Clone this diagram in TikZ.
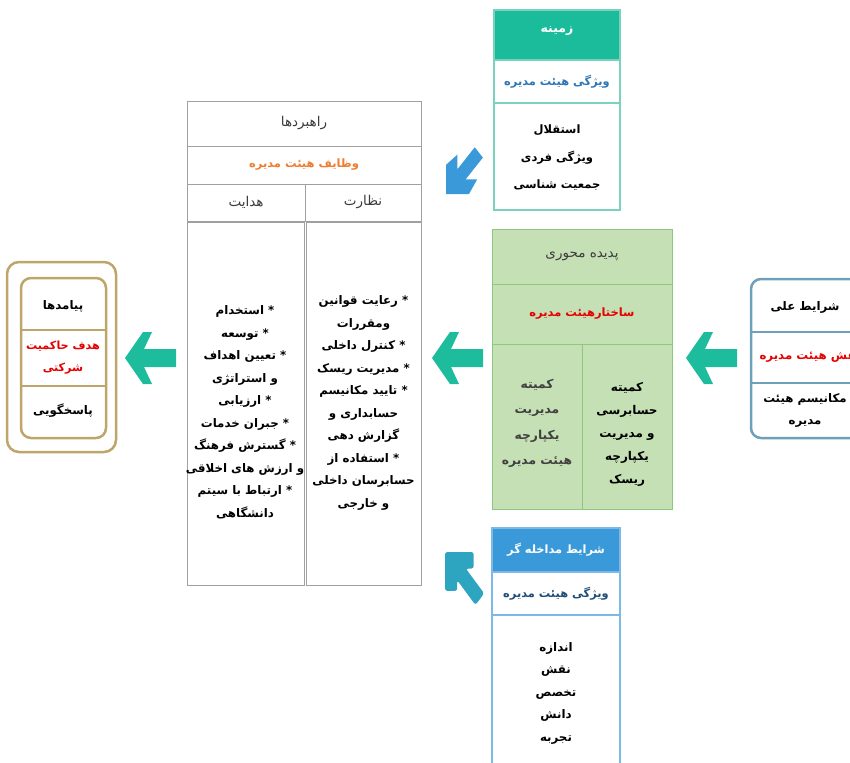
\documentclass[tikz,border=0pt]{standalone}
\usepackage{fontspec}
\newfontfamily\ar[Script=Arabic]{DejaVu Sans}
\TeXXeTstate=1
\newcommand\rl[1]{\beginR #1\endR}
\definecolor{zteal}{RGB}{27,188,155}
\definecolor{ztealline}{RGB}{120,210,190}
\definecolor{steel}{RGB}{46,117,182}
\definecolor{navy}{RGB}{31,78,121}
\definecolor{orng}{RGB}{237,125,49}
\definecolor{grayline}{RGB}{160,160,160}
\definecolor{gfill}{RGB}{197,224,180}
\definecolor{gline}{RGB}{140,200,125}
\definecolor{redt}{RGB}{230,0,0}
\definecolor{cline}{RGB}{110,160,185}
\definecolor{gold}{RGB}{190,165,105}
\definecolor{mblue}{RGB}{58,154,217}
\definecolor{mline}{RGB}{125,185,230}
\definecolor{garrow}{RGB}{29,188,156}
\definecolor{barrow}{RGB}{58,154,217}
\definecolor{tarrow}{RGB}{46,165,192}
\definecolor{darkt}{RGB}{60,60,60}
\definecolor{grayt}{RGB}{64,64,64}
\begin{document}
\begin{tikzpicture}[x=1pt,y=-1pt,
  every node/.style={inner sep=0pt,outer sep=0pt,align=center},
  txt/.style={font=\ar\bfseries\fontsize{11.8}{22.5}\selectfont},
  hdr/.style={font=\ar\fontsize{13.5}{16}\selectfont, text=darkt},
  zc/.style={draw=ztealline, line width=1.2pt, rectangle},
  rc/.style={draw=grayline, line width=0.8pt, rectangle},
  gc/.style={draw=gline, line width=1pt, fill=gfill, rectangle},
  mc/.style={draw=mline, line width=1.2pt, rectangle},
  garr/.style={fill=garrow}]
\useasboundingbox (0,0) rectangle (850,762);
\clip (0,0) rectangle (850,762);

% ---- Zamineh box
\node[zc, fill=zteal, minimum width=126pt, minimum height=50pt] (z1) at (557,35) {};
\node[text=white, font=\ar\bfseries\fontsize{12.5}{14}\selectfont] (z1t) at (557,31) {\rl{زمینه}};
\node[zc, minimum width=126pt, minimum height=43pt, text=steel,
      font=\ar\bfseries\fontsize{11.4}{13}\selectfont] (z2) at (557,81.5) {\rl{ویژگی هیئت مدیره}};
\node[zc, minimum width=126pt, minimum height=107pt] (z3) at (557,156.5) {};
\node[font=\ar\bfseries\fontsize{11.5}{27.5}\selectfont] (z3t) at (557,158)
  {\rl{استقلال}\\\rl{ویژگی فردی}\\\rl{جمعیت شناسی}};

% ---- Rahbordha box
\node[rc, minimum width=234pt, minimum height=45pt, hdr] (r1) at (304,123.5) {\rl{راهبردها}};
\node[rc, minimum width=234pt, minimum height=38pt, text=orng,
      font=\ar\bfseries\fontsize{11.5}{13}\selectfont] (r2) at (304,165) {\rl{وظایف هیئت مدیره}};
\node[rc, minimum width=118pt, minimum height=37pt, hdr] (r3a) at (246,202.5) {\rl{هدایت}};
\node[rc, minimum width=116pt, minimum height=37pt, hdr] (r3b) at (363,202.5) {\rl{نظارت}};
\node[rc, minimum width=117pt, minimum height=363pt] (r4a) at (245.5,403.5) {};
\node[rc, minimum width=115pt, minimum height=363pt] (r4b) at (363.5,403.5) {};
\node[txt] (r4at) at (245,412.5)
  {\rl{* استخدام}\\\rl{* توسعه}\\\rl{* تعیین اهداف}\\\rl{و استراتژی}\\\rl{* ارزیابی}\\
   \rl{* جبران خدمات}\\\rl{* گسترش فرهنگ}\\\rl{و ارزش های اخلاقی}\\\rl{* ارتباط با سیتم}\\\rl{دانشگاهی}};
\node[txt] (r4bt) at (363.5,403)
  {\rl{* رعایت قوانین}\\\rl{ومقررات}\\\rl{* کنترل داخلی}\\\rl{* مدیریت ریسک}\\\rl{* تایید مکانیسم}\\
   \rl{حسابداری و}\\\rl{گزارش دهی}\\\rl{* استفاده از}\\\rl{حسابرسان داخلی}\\\rl{و خارجی}};

% ---- Green box
\node[gc, minimum width=180pt, minimum height=55pt, hdr] (g1) at (582,256.5) {\rl{پدیده محوری}};
\node[gc, minimum width=180pt, minimum height=60pt, text=redt,
      font=\ar\bfseries\fontsize{11.5}{13}\selectfont] (g2) at (582,314) {\rl{ساختارهیئت مدیره}};
\node[gc, minimum width=90pt, minimum height=165pt] (g3a) at (537,426.5) {};
\node[gc, minimum width=90pt, minimum height=165pt] (g3b) at (627,426.5) {};
\node[text=grayt, font=\ar\bfseries\fontsize{12.3}{25.5}\selectfont] (g3at) at (537,423.5)
  {\rl{کمیته}\\\rl{مدیریت}\\\rl{یکپارچه}\\\rl{هیئت مدیره}};
\node[font=\ar\bfseries\fontsize{12}{23}\selectfont] (g3bt) at (627,434)
  {\rl{کمیته}\\\rl{حسابرسی}\\\rl{و مدیریت}\\\rl{یکپارچه}\\\rl{ریسک}};

% ---- Sharayet elli box
\node[draw=cline, line width=2.5pt, rounded corners=10pt, minimum width=115pt, minimum height=159pt] (c) at (808.5,358.5) {};
\draw[cline, line width=1.5pt] (c.west |- 0,332) -- (c.east |- 0,332);
\draw[cline, line width=1.5pt] (c.west |- 0,383) -- (c.east |- 0,383);
\node[txt] (c1) at (805,307) {\rl{شرایط علی}};
\node[txt, text=redt] (c2) at (810,357) {\rl{نقش هیئت مدیره}};
\node[txt] (c3) at (805,410.5) {\rl{مکانیسم هیئت}\\\rl{مدیره}};

% ---- Payamadha box
\node[draw=gold, line width=2.5pt, rounded corners=12pt, minimum width=109pt, minimum height=190pt] (po) at (61.5,357) {};
\node[draw=gold, line width=2.5pt, rounded corners=10pt, minimum width=85pt, minimum height=160pt] (pi) at (63.5,358) {};
\draw[gold, line width=2pt] (pi.west |- 0,330) -- (pi.east |- 0,330);
\draw[gold, line width=2pt] (pi.west |- 0,386) -- (pi.east |- 0,386);
\node[txt] (p1) at (63,306) {\rl{پیامدها}};
\node[txt, text=redt, font=\ar\bfseries\fontsize{11.2}{22.5}\selectfont] (p2) at (63,357.5) {\rl{هدف حاکمیت}\\\rl{شرکتی}};
\node[txt] (p3) at (63,411) {\rl{پاسخگویی}};

% ---- Modakheleh-gar box
\node[mc, fill=mblue, minimum width=128pt, minimum height=44pt, text=white,
      font=\ar\bfseries\fontsize{11.4}{13}\selectfont] (m1) at (556,550) {\rl{شرایط مداخله گر}};
\node[mc, minimum width=128pt, minimum height=43pt, text=navy,
      font=\ar\bfseries\fontsize{11.4}{13}\selectfont] (m2) at (556,593.5) {\rl{ویژگی هیئت مدیره}};
\node[mc, minimum width=128pt, minimum height=170pt] (m3) at (556,700) {};
\node[txt] (m3t) at (556,693)
  {\rl{اندازه}\\\rl{نقش}\\\rl{تخصص}\\\rl{دانش}\\\rl{تجربه}};

% ---- arrows
\foreach \tx in {125,432,686}
  \fill[garr, shift={(\tx,358)}] (0,0) -- (18,-26) -- (27,-26) -- (19,-9) -- (51,-9)
     -- (51,9) -- (19,9) -- (27,26) -- (18,26) -- cycle;
\begin{scope}[shift={(446,194)}, xscale=0.82, yscale=1.04]
  \fill[barrow] (0,0) -- (28,0) -- (38,-14) -- (23.9,-14) -- (44.95,-35.05) -- (35.05,-44.95)
     -- (14,-23.9) -- (14,-38) -- (0,-28) -- cycle;
\end{scope}
\begin{scope}[shift={(445,552)}, xscale=0.87, yscale=-1.18]
  \fill[tarrow, rounded corners=2.5pt] (0,0) -- (33,0) -- (33,-14) -- (23.9,-14) -- (44.95,-35.05) -- (35.05,-44.95)
     -- (14,-23.9) -- (14,-33) -- (0,-33) -- cycle;
\end{scope}
\end{tikzpicture}
\end{document}
